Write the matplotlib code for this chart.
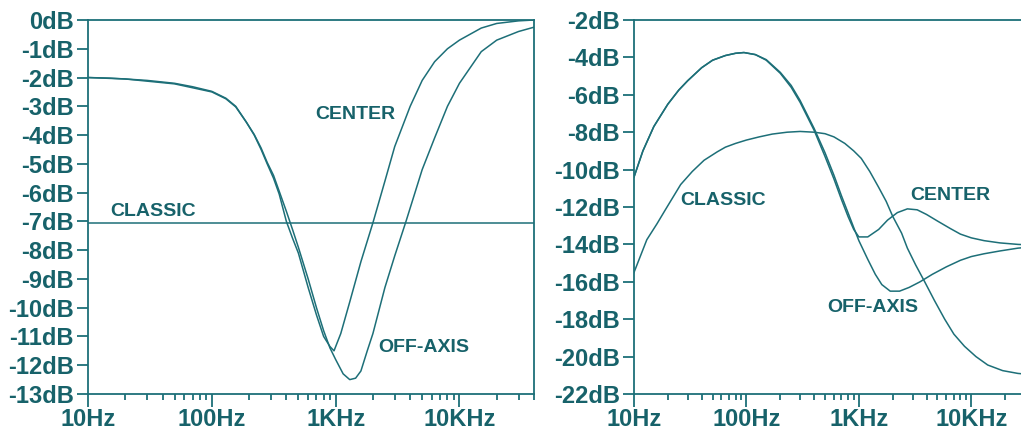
import matplotlib
matplotlib.use('Agg')
import matplotlib.pyplot as plt

# colours / fonts
teal = '#1d6f78'
txt = '#17626a'
plt.rcParams['font.family'] = ['Liberation Sans', 'DejaVu Sans']

# ---- left panel data (Hz, dB) ----
l_center_f = [10, 15, 20, 30, 50, 70, 100, 130, 156, 190, 220, 250, 280, 315, 350, 400,
              450, 500, 600, 700, 800, 900, 970, 1100, 1300, 1600, 2000, 2500, 3000,
              4000, 5000, 6300, 8000, 10000, 15000, 20000, 30000, 40000]
l_center_db = [-2.0, -2.02, -2.05, -2.1, -2.2, -2.32, -2.48, -2.72, -3.0, -3.55, -4.0,
               -4.5, -5.0, -5.5, -6.05, -7.0, -7.6, -8.1, -9.3, -10.25, -11.0, -11.35,
               -11.5, -10.9, -9.8, -8.4, -7.05, -5.6, -4.4, -3.0, -2.1, -1.45, -1.0,
               -0.7, -0.28, -0.12, -0.03, 0.0]

l_off_f = [10, 20, 50, 100, 130, 156, 190, 220, 250, 280, 315, 350, 400, 450, 500, 600,
           700, 800, 900, 1000, 1150, 1300, 1450, 1600, 1800, 2000, 2500, 3000, 3700,
           5000, 6300, 8000, 10000, 15000, 20000, 30000, 40000]
l_off_db = [-2.0, -2.05, -2.22, -2.5, -2.74, -3.02, -3.55, -3.98, -4.45, -4.95, -5.4,
            -5.95, -6.65, -7.3, -7.9, -9.0, -10.0, -10.8, -11.4, -11.8, -12.3, -12.5,
            -12.45, -12.2, -11.5, -10.9, -9.3, -8.2, -7.0, -5.2, -4.1, -3.0, -2.2,
            -1.1, -0.7, -0.4, -0.25]

l_classic_f = [10, 40000]
l_classic_db = [-7.05, -7.05]

# ---- right panel data (Hz, dB) ----
r_center_f = [10, 12, 15, 20, 25, 30, 40, 50, 65, 80, 95, 120, 150, 200, 250, 300, 400,
              500, 600, 700, 800, 900, 1000, 1200, 1500, 1800, 2200, 2700, 3300, 4000,
              5000, 6500, 8000, 10000, 13000, 18000, 26000, 40000]
r_center_db = [-10.4, -9.0, -7.7, -6.5, -5.75, -5.25, -4.55, -4.15, -3.9, -3.78, -3.74,
               -3.85, -4.15, -4.85, -5.6, -6.4, -7.9, -9.3, -10.5, -11.6, -12.5, -13.2,
               -13.6, -13.6, -13.2, -12.7, -12.3, -12.1, -12.15, -12.4, -12.75, -13.15,
               -13.45, -13.65, -13.8, -13.92, -14.0, -14.05]

r_off_f = [10, 12, 15, 20, 25, 30, 40, 50, 65, 80, 95, 120, 150, 200, 250, 300, 400, 500,
           600, 700, 800, 900, 1000, 1200, 1400, 1600, 1900, 2300, 2800, 3500, 4500, 6000,
           8000, 10000, 13000, 18000, 26000, 40000]
r_off_db = [-10.4, -9.0, -7.7, -6.5, -5.75, -5.25, -4.55, -4.15, -3.9, -3.78, -3.74, -3.85,
            -4.12, -4.8, -5.5, -6.3, -7.8, -9.1, -10.3, -11.4, -12.3, -13.1, -13.8, -14.8,
            -15.6, -16.15, -16.5, -16.5, -16.3, -16.0, -15.6, -15.2, -14.85, -14.65,
            -14.5, -14.35, -14.2, -14.1]

r_classic_f = [10, 13, 16, 19, 26, 33, 42, 55, 65, 80, 100, 130, 170, 230, 300, 400, 500,
               600, 750, 900, 1050, 1250, 1500, 1750, 2000, 2400, 2700, 3200, 3850, 4700,
               5800, 7000, 8700, 11000, 14000, 19000, 26000, 40000]
r_classic_db = [-15.5, -13.75, -12.9, -12.15, -10.8, -10.1, -9.5, -9.05, -8.8, -8.6, -8.42,
                -8.25, -8.1, -8.0, -7.96, -8.0, -8.08, -8.25, -8.6, -9.0, -9.4, -10.1,
                -10.95, -11.7, -12.5, -13.4, -14.2, -15.1, -16.0, -17.0, -18.0, -18.8,
                -19.45, -20.0, -20.45, -20.75, -20.9, -21.0]

# ticks and labels
x_ticks = [10, 100, 1000, 10000]
x_labels = ['10Hz', '100Hz', '1KHz', '10KHz']
l_yticks = list(range(0, -14, -1))
r_yticks = list(range(-2, -23, -2))

# curve labels: (text, freq, dB)
l_notes = [('CLASSIC', 15, -6.67), ('CENTER', 683, -3.3), ('OFF-AXIS', 2200, -11.4)]
r_notes = [('CLASSIC', 25.6, -11.63), ('CENTER', 2860, -11.36), ('OFF-AXIS', 521, -17.35)]

fig = plt.figure(figsize=(10.21, 4.37), dpi=100)
ax1 = fig.add_axes([88/1021, 43/437, 446/1021, 374/437])
ax2 = fig.add_axes([634/1021, 43/437, 405/1021, 374/437])


def style(ax, yticks, ylim):
    ax.set_xscale('log')
    ax.set_xlim(10, 40000)
    ax.set_ylim(*ylim)
    ax.set_xticks(x_ticks)
    ax.set_xticklabels(x_labels)
    ax.set_yticks(yticks)
    ax.set_yticklabels([f'{v}dB' for v in yticks])
    for s in ax.spines.values():
        s.set_color(teal)
        s.set_linewidth(1.3)
    ax.tick_params(axis='y', which='major', direction='out', length=8, width=1.3,
                   color=teal, labelcolor=txt, labelsize=17, pad=2)
    ax.tick_params(axis='x', which='major', direction='out', length=9, width=1.3,
                   color=teal, labelcolor=txt, labelsize=17, pad=1)
    ax.tick_params(axis='x', which='minor', direction='out', length=4, width=1.3,
                   color=teal)
    for lab in ax.get_xticklabels() + ax.get_yticklabels():
        lab.set_fontweight('bold')


ax1.plot(l_center_f, l_center_db, color=teal, lw=1.1)
ax1.plot(l_off_f, l_off_db, color=teal, lw=1.1)
ax1.plot(l_classic_f, l_classic_db, color=teal, lw=1.1)
style(ax1, l_yticks, (-13, 0))
for t, f, d in l_notes:
    ax1.text(f, d, t, color=txt, fontsize=14, fontweight='bold', ha='left', va='center')

ax2.plot(r_center_f, r_center_db, color=teal, lw=1.1)
ax2.plot(r_off_f, r_off_db, color=teal, lw=1.1)
ax2.plot(r_classic_f, r_classic_db, color=teal, lw=1.1)
style(ax2, r_yticks, (-22, -2))
for t, f, d in r_notes:
    ax2.text(f, d, t, color=txt, fontsize=14, fontweight='bold', ha='left', va='center')

fig.savefig('out.png', dpi=100)
